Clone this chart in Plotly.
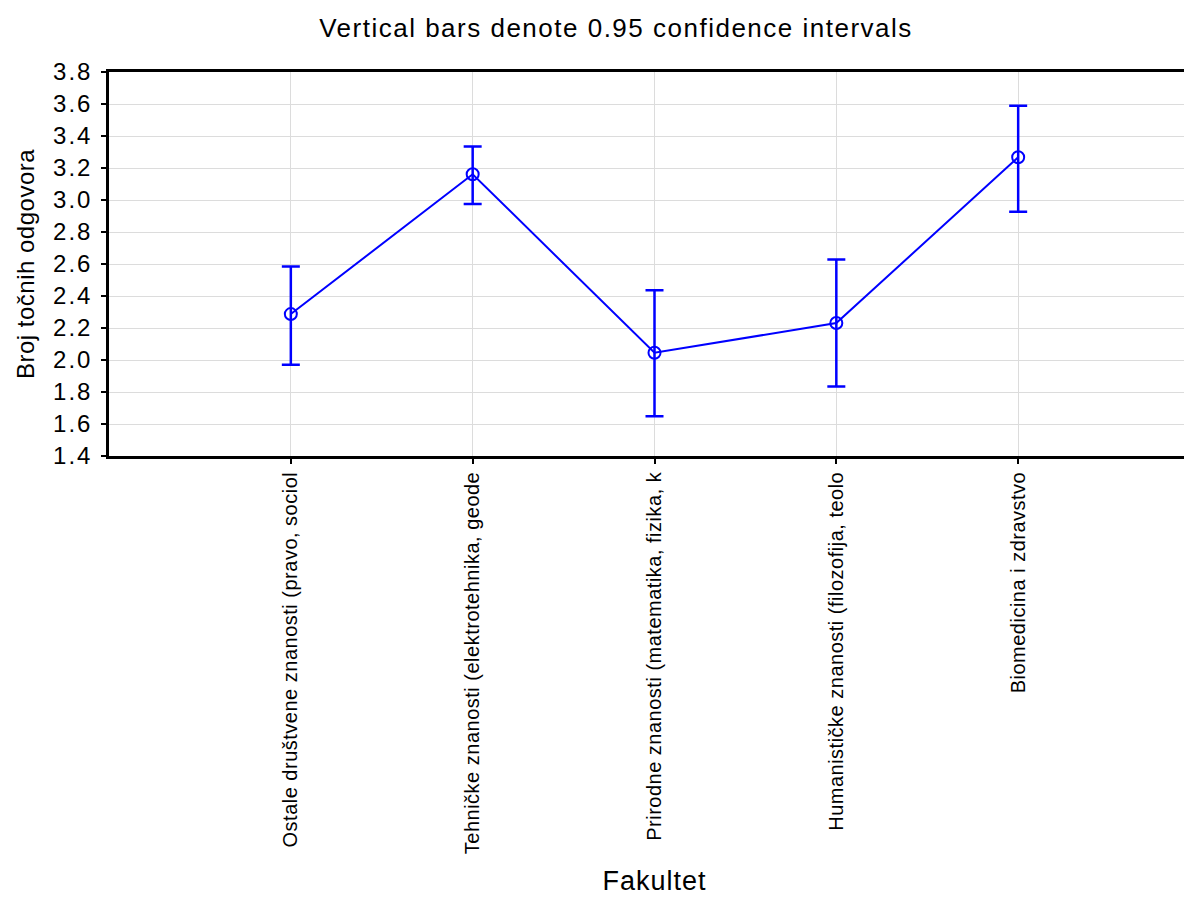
import plotly.graph_objects as go

categories = [
    "Ostale društvene znanosti (pravo, sociol",
    "Tehničke znanosti (elektrotehnika, geode",
    "Prirodne znanosti (matematika, fizika, k",
    "Humanističke znanosti (filozofija, teolo",
    "Biomedicina i zdravstvo",
]
means = [2.287, 3.161, 2.045, 2.231, 3.267]
upper = [2.584, 3.335, 2.436, 2.628, 3.589]
lower = [1.971, 2.975, 1.648, 1.834, 2.926]
y_ticks = [1.4, 1.6, 1.8, 2.0, 2.2, 2.4, 2.6, 2.8, 3.0, 3.2, 3.4, 3.6, 3.8]

xpos = list(range(1, len(categories) + 1))
err_plus = [u - m for u, m in zip(upper, means)]
err_minus = [m - l for m, l in zip(means, lower)]

FONT = "Liberation Sans, Arial, sans-serif"
BLUE = "#0000ff"


def spaced(t, px):
    return f'<span style="letter-spacing:{px}px">{t}</span>'


fig = go.Figure()
fig.add_trace(go.Scatter(
    x=xpos, y=means, mode="lines+markers",
    line=dict(color=BLUE, width=2),
    marker=dict(symbol="circle-open", size=12, color=BLUE, line=dict(width=2, color=BLUE)),
    error_y=dict(type="data", symmetric=False, array=err_plus, arrayminus=err_minus,
                 color=BLUE, thickness=2.5, width=9),
    showlegend=False,
))

fig.update_layout(
    width=1192, height=897,
    margin=dict(l=101, r=0, t=64, b=449),
    paper_bgcolor="white", plot_bgcolor="white",
    font=dict(family=FONT, color="black"),
    title=dict(text=spaced("Vertical bars denote 0.95 confidence intervals", 1.5),
               x=608 / 1192, xanchor="center", xref="container",
               y=1 - 20 / 897, yanchor="middle", yref="container",
               font=dict(size=26, color="black", family=FONT)),
)
fig.update_xaxes(
    range=[0, 6], tickmode="array", tickvals=xpos,
    ticktext=[spaced(c, 0.5) for c in categories],
    tickangle=-90, tickfont=dict(size=20, family=FONT, color="black"),
    showgrid=True, gridcolor="#dcdcdc", gridwidth=1,
    showline=True, linecolor="black", linewidth=2.5, mirror=True,
    ticks="outside", ticklen=5, tickcolor="black", tickwidth=2,
    zeroline=False,
    title=dict(text=spaced("Fakultet", 1), font=dict(size=27, family=FONT, color="black"), standoff=18),
)
fig.update_yaxes(
    range=[1.4, 3.8], tickmode="array", tickvals=y_ticks,
    ticktext=[spaced(f"{v:.1f}", 2) for v in y_ticks],
    tickfont=dict(size=24, family=FONT, color="black"),
    ticklabelstandoff=4,
    showgrid=True, gridcolor="#dcdcdc", gridwidth=1,
    showline=True, linecolor="black", linewidth=2.5,
    ticks="outside", ticklen=5, tickcolor="black", tickwidth=2,
    zeroline=False,
    title=dict(text=spaced("Broj točnih odgovora", 0.5), font=dict(size=24, family=FONT, color="black"), standoff=12),
)

fig.write_html("out.html")
